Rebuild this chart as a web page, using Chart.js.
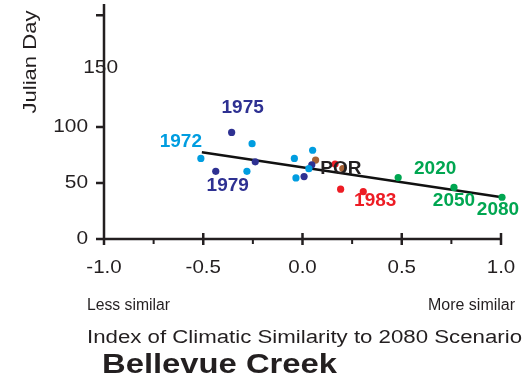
<!DOCTYPE html>
<html>
<head>
<meta charset="utf-8">
<script src="https://cdn.jsdelivr.net/npm/chart.js@4/dist/chart.umd.min.js"></script>
<style>
  html, body { margin: 0; padding: 0; background: #fff; }
  canvas { display: block; }
</style>
</head>
<body>
<canvas id="myChart" width="523" height="379"></canvas>
<script>
// data
var lightBlueX = [-0.512, -0.254, -0.280, -0.041, 0.051, 0.032, -0.033];
var lightBlueY = [72.0, 85.2, 60.5, 72.0, 79.3, 62.8, 54.6];
var darkBlueX = [-0.357, -0.437, -0.238, 0.047, 0.008];
var darkBlueY = [95.2, 60.5, 69.0, 66.3, 55.8];
var redX = [0.192, 0.164, 0.306];
var redY = [44.5, 67.0, 42.3];
var brownX = [0.066, 0.203];
var brownY = [70.5, 63.0];
var greenX = [0.482, 0.763, 1.005];
var greenY = [54.9, 46.1, 37.3];
var trendX = [-0.507, 1.005];
var trendY = [77.5, 37.3];

var xMajorTicks = [-1.0, -0.5, 0.0, 0.5, 1.0];
var xMinorTicks = [-0.75, -0.25, 0.25, 0.75];
var xTickLabels = ['-1.0', '-0.5', '0.0', '0.5', '1.0'];
var yTicks = [0, 50, 100, 200];
var yTickLabels = ['0', '50', '100', ''];

// which point gets which year label: [dataset index, point index, text]
var pointLabels = [
    [0, 0, '1972'],
    [1, 0, '1975'],
    [1, 1, '1979'],
    [3, 1, 'POR'],
    [2, 2, '1983'],
    [4, 0, '2020'],
    [4, 1, '2050'],
    [4, 2, '2080']
];
var labelOffsets = [[-20, -17], [11, -25], [12, 14], [-2, 0], [12, 9], [37, -9], [0, 13], [-4, 13]];

var colors = ['rgb(0, 157, 224)', 'rgb(46, 49, 146)', 'rgb(237, 28, 36)', 'rgb(166, 97, 52)', 'rgb(0, 166, 81)'];
var FONT = '"Liberation Sans", Arial, sans-serif';

function pts(xs, ys) {
    return xs.map(function (x, i) { return { x: x, y: ys[i] }; });
}

// text with a horizontal stretch so widths match the picture
function drawText(ctx, text, x, y, font, color, align, width) {
    ctx.save();
    ctx.font = font;
    ctx.fillStyle = color;
    ctx.textBaseline = 'middle';
    var w = ctx.measureText(text).width;
    var sx = width ? width / w : 1;
    ctx.translate(x, y);
    ctx.scale(sx, 1);
    ctx.textAlign = align;
    ctx.fillText(text, 0, 0);
    ctx.restore();
}

var axesPlugin = {
    id: 'axes',
    beforeDatasetsDraw: function (chart) {
        var ctx = chart.ctx;
        var xs = chart.scales.x, ys = chart.scales.y;
        var y0 = ys.getPixelForValue(0);
        var xl = xs.getPixelForValue(-1);
        ctx.save();
        ctx.strokeStyle = '#231f20';
        ctx.lineWidth = 2.5;
        ctx.beginPath();
        ctx.moveTo(xl, chart.chartArea.top);
        ctx.lineTo(xl, y0);
        ctx.lineTo(xs.getPixelForValue(1), y0);
        xMajorTicks.forEach(function (v) {
            var p = xs.getPixelForValue(v);
            ctx.moveTo(p, y0 - 6);
            ctx.lineTo(p, y0 + 6);
        });
        yTicks.forEach(function (v) {
            var p = ys.getPixelForValue(v);
            ctx.moveTo(xl - 8, p);
            ctx.lineTo(xl, p);
        });
        ctx.stroke();
        ctx.lineWidth = 2;
        ctx.beginPath();
        xMinorTicks.forEach(function (v) {
            var p = xs.getPixelForValue(v);
            ctx.moveTo(p, y0);
            ctx.lineTo(p, y0 + 5);
        });
        ctx.stroke();
        ctx.restore();

        var tickFont = '19px ' + FONT;
        xMajorTicks.forEach(function (v, i) {
            var t = xTickLabels[i];
            ctx.font = tickFont;
            drawText(ctx, t, xs.getPixelForValue(v), 268, tickFont, '#231f20', 'center', ctx.measureText(t).width * 1.08);
        });
        yTicks.forEach(function (v, i) {
            var t = yTickLabels[i];
            if (!t) return;
            ctx.font = tickFont;
            drawText(ctx, t, 88, ys.getPixelForValue(v), tickFont, '#231f20', 'right', ctx.measureText(t).width * 1.1);
        });
        // the 150 label sits across the axis in the original
        ctx.font = tickFont;
        drawText(ctx, '150', 118, ys.getPixelForValue(150) - 3, tickFont, '#231f20', 'right', ctx.measureText('150').width * 1.1);

        // axis titles
        ctx.save();
        ctx.translate(31, 62);
        ctx.rotate(-Math.PI / 2);
        drawText(ctx, 'Julian Day', 0, 0, '18px ' + FONT, '#231f20', 'center', 103);
        ctx.restore();
        drawText(ctx, 'Less similar', 87, 306, '16px ' + FONT, '#231f20', 'left', 83);
        drawText(ctx, 'More similar', 515, 306, '16px ' + FONT, '#231f20', 'right', 87);
        drawText(ctx, 'Index of Climatic Similarity to 2080 Scenario', 87, 338, '18px ' + FONT, '#231f20', 'left', 435);
        drawText(ctx, 'Bellevue Creek', 102, 366, 'bold 27px ' + FONT, '#231f20', 'left', 235);
    }
};

var labelPlugin = {
    id: 'pointLabels',
    afterDatasetsDraw: function (chart) {
        var ctx = chart.ctx;
        pointLabels.forEach(function (l, i) {
            var el = chart.getDatasetMeta(l[0]).data[l[1]];
            var col = l[2] === 'POR' ? '#231f20' : colors[l[0]];
            drawText(ctx, l[2], el.x + labelOffsets[i][0], el.y + labelOffsets[i][1], 'bold 19px ' + FONT, col, 'center');
        });
    }
};

function scatterSet(xs, ys, i) {
    return {
        type: 'scatter',
        data: pts(xs, ys),
        backgroundColor: colors[i],
        borderColor: colors[i],
        pointRadius: 3.6,
        borderWidth: 0,
        clip: false,
        order: 1
    };
}

var ctx = document.getElementById('myChart').getContext('2d');
var chart = new Chart(ctx, {
    type: 'scatter',
    data: {
        datasets: [
            scatterSet(lightBlueX, lightBlueY, 0),
            scatterSet(darkBlueX, darkBlueY, 1),
            scatterSet(redX, redY, 2),
            scatterSet(brownX, brownY, 3),
            scatterSet(greenX, greenY, 4),
            {
                type: 'line',
                data: pts(trendX, trendY),
                borderColor: '#111',
                borderWidth: 2.5,
                pointRadius: 0,
                fill: false,
                clip: false,
                order: 2
            }
        ]
    },
    options: {
        responsive: false,
        animation: false,
        devicePixelRatio: 1,
        layout: { padding: { left: 104, right: 22, top: 0, bottom: 140 } },
        plugins: { legend: { display: false }, tooltip: { enabled: false } },
        scales: {
            x: { type: 'linear', min: -1, max: 1, display: false },
            y: { type: 'linear', min: 0, max: 210, display: false }
        }
    },
    plugins: [axesPlugin, labelPlugin]
});
</script>
</body>
</html>
